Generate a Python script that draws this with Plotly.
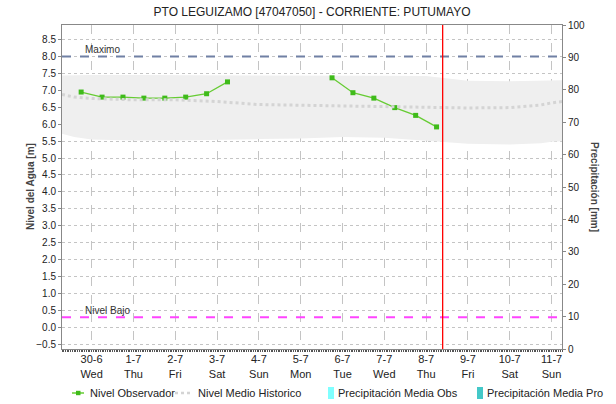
import plotly.graph_objects as go

# Observed water level (m), readings at 06:00 and 18:00; None breaks the line
obs_time = ["2021-06-29 18:00", "2021-06-30 06:00", "2021-06-30 18:00",
            "2021-07-01 06:00", "2021-07-01 18:00", "2021-07-02 06:00",
            "2021-07-02 18:00", "2021-07-03 06:00", "2021-07-04 00:00",
            "2021-07-05 18:00", "2021-07-06 06:00", "2021-07-06 18:00",
            "2021-07-07 06:00", "2021-07-07 18:00", "2021-07-08 06:00"]
obs_level = [6.95, 6.80, 6.80, 6.77, 6.77, 6.80, 6.90, 7.25, None,
             7.37, 6.93, 6.77, 6.49, 6.26, 5.92]

# Historical statistics (m)
hist_time = ["2021-06-29 07:00", "2021-06-29 14:00", "2021-06-30 00:00",
             "2021-07-01 00:00", "2021-07-02 00:00", "2021-07-03 00:00",
             "2021-07-04 00:00", "2021-07-05 00:00", "2021-07-06 00:00",
             "2021-07-07 00:00", "2021-07-08 00:00", "2021-07-08 12:00",
             "2021-07-09 00:00", "2021-07-10 00:00", "2021-07-10 18:00",
             "2021-07-11 00:00", "2021-07-11 06:00"]
hist_mean = [6.88, 6.80, 6.76, 6.72, 6.72, 6.67, 6.58, 6.56, 6.52,
             6.51, 6.49, 6.48, 6.48, 6.49, 6.57, 6.63, 6.67]
hist_max = [7.44, 7.45, 7.45, 7.45, 7.45, 7.45, 7.45, 7.44, 7.44,
            7.43, 7.42, 7.36, 7.28, 7.27, 7.29, 7.30, 7.30]
hist_min = [5.72, 5.62, 5.55, 5.52, 5.52, 5.55, 5.56, 5.58, 5.62,
            5.60, 5.52, 5.46, 5.42, 5.40, 5.44, 5.48, 5.50]

# Daily precipitation (mm) – nothing recorded in this period
precip_time = ["2021-06-30", "2021-07-01", "2021-07-02", "2021-07-03",
               "2021-07-04", "2021-07-05", "2021-07-06", "2021-07-07",
               "2021-07-08"]
precip_obs = [0, 0, 0, 0, 0, 0, 0, 0, 0]
precip_pro = [0, 0, 0, 0, 0, 0, 0, 0, 0]

# Reference levels (m)
nivel_maximo = 8.0
nivel_bajo = 0.3
now_time = "2021-07-08 09:30"

# Day axis labels
day_ticks = ["2021-06-30", "2021-07-01", "2021-07-02", "2021-07-03",
             "2021-07-04", "2021-07-05", "2021-07-06", "2021-07-07",
             "2021-07-08", "2021-07-09", "2021-07-10", "2021-07-11"]
day_labels = ["30-6", "1-7", "2-7", "3-7", "4-7", "5-7", "6-7", "7-7",
              "8-7", "9-7", "10-7", "11-7"]
weekday_labels = ["Wed", "Thu", "Fri", "Sat", "Sun", "Mon", "Tue", "Wed",
                  "Thu", "Fri", "Sat", "Sun"]

x_range = ["2021-06-29 07:00", "2021-07-11 06:00"]
FONT = "Liberation Sans, Arial, sans-serif"

C_OBS_LINE, C_OBS_MARK = "#66cc33", "#3fbb1a"
C_MEAN = "#d4d4d4"
C_PREC_OBS, C_PREC_PRO = "#80ffff", "#44c8c8"

# plot area in pixels, used to place the legend row below the axes
PL, PR, PT, PB = 62, 562, 25, 349


def px_x(v):
    return (v - PL) / (PR - PL)


def px_y(v):
    return (PB - v) / (PB - PT)


fig = go.Figure()

# Historical band
fig.add_trace(go.Scatter(x=hist_time, y=hist_min, mode="lines",
                         line=dict(width=0, color="#efefef"),
                         showlegend=False, hoverinfo="skip"))
fig.add_trace(go.Scatter(x=hist_time, y=hist_max, mode="lines",
                         line=dict(width=0, color="#efefef"),
                         fill="tonexty", fillcolor="#efefef",
                         showlegend=False, hoverinfo="skip"))

# Observed level
fig.add_trace(go.Scatter(x=obs_time, y=obs_level, mode="lines+markers",
                         name="Nivel Observador",
                         line=dict(color=C_OBS_LINE, width=1.3),
                         marker=dict(symbol="square", size=5, color=C_OBS_MARK),
                         connectgaps=False, showlegend=False))

# Historical mean
fig.add_trace(go.Scatter(x=hist_time, y=hist_mean, mode="lines",
                         name="Nivel Medio Historico",
                         line=dict(color=C_MEAN, width=3, dash="dot"),
                         showlegend=False))

# Precipitation bars on right axis
fig.add_trace(go.Bar(x=precip_time, y=precip_obs, yaxis="y2",
                     name="Precipitación Media Obs", showlegend=False,
                     marker=dict(color=C_PREC_OBS, line=dict(width=0))))
fig.add_trace(go.Bar(x=precip_time, y=precip_pro, yaxis="y2",
                     name="Precipitación Media Pro", showlegend=False,
                     marker=dict(color=C_PREC_PRO, line=dict(width=0))))

# Reference lines
fig.add_hline(y=nivel_maximo, line=dict(color="#7080a4", width=2, dash="dash"))
fig.add_hline(y=nivel_bajo, line=dict(color="#ff44ff", width=2, dash="dash"))
fig.add_vline(x=now_time, line=dict(color="#ff0000", width=1.3))

fig.add_annotation(x=0.042, y=nivel_maximo, xref="paper", yref="y",
                   text="Maximo", showarrow=False, xanchor="left",
                   yanchor="bottom", yshift=-1,
                   font=dict(family=FONT, size=10, color="#333"))
fig.add_annotation(x=0.042, y=nivel_bajo, xref="paper", yref="y",
                   text="Nivel Bajo", showarrow=False, xanchor="left",
                   yanchor="bottom", yshift=-1,
                   font=dict(family=FONT, size=10, color="#333"))

# Axis titles
fig.add_annotation(x=px_x(30), y=0.5, xref="paper", yref="paper",
                   text="<b>Nivel del Agua [m]</b>", textangle=-90,
                   showarrow=False, xanchor="center", yanchor="middle",
                   font=dict(family=FONT, size=10, color="#444"))
fig.add_annotation(x=px_x(595), y=0.5, xref="paper", yref="paper",
                   text="<b>Precipitación [mm]</b>", textangle=90,
                   showarrow=False, xanchor="center", yanchor="middle",
                   font=dict(family=FONT, size=10, color="#444"))

# Legend row
LEG_Y = 393
ly = px_y(LEG_Y)
legend_font = dict(family=FONT, size=11, color="#222")
# Nivel Observador
fig.add_shape(type="line", xref="paper", yref="paper",
              x0=px_x(72), x1=px_x(84), y0=ly, y1=ly,
              line=dict(color=C_OBS_LINE, width=1.5))
fig.add_shape(type="rect", xref="paper", yref="paper",
              x0=px_x(76), x1=px_x(80.5), y0=px_y(LEG_Y + 2.2),
              y1=px_y(LEG_Y - 2.2), line=dict(width=0), fillcolor=C_OBS_MARK)
fig.add_annotation(x=px_x(88), y=ly, xref="paper", yref="paper",
                   text="Nivel Observador", showarrow=False,
                   xanchor="left", yanchor="middle", font=legend_font)
# Nivel Medio Historico
fig.add_shape(type="line", xref="paper", yref="paper",
              x0=px_x(175), x1=px_x(191), y0=ly, y1=ly,
              line=dict(color=C_MEAN, width=2.5, dash="dot"))
fig.add_annotation(x=px_x(196), y=ly, xref="paper", yref="paper",
                   text="Nivel Medio Historico", showarrow=False,
                   xanchor="left", yanchor="middle", font=legend_font)
# Precipitación Media Obs
fig.add_shape(type="rect", xref="paper", yref="paper",
              x0=px_x(328), x1=px_x(334), y0=px_y(LEG_Y + 6),
              y1=px_y(LEG_Y - 6), line=dict(width=0), fillcolor=C_PREC_OBS)
fig.add_annotation(x=px_x(336), y=ly, xref="paper", yref="paper",
                   text="Precipitación Media Obs", showarrow=False,
                   xanchor="left", yanchor="middle", font=legend_font)
# Precipitación Media Pro
fig.add_shape(type="rect", xref="paper", yref="paper",
              x0=px_x(477), x1=px_x(483), y0=px_y(LEG_Y + 6),
              y1=px_y(LEG_Y - 6), line=dict(width=0), fillcolor=C_PREC_PRO)
fig.add_annotation(x=px_x(485), y=ly, xref="paper", yref="paper",
                   text="Precipitación Media Pro", showarrow=False,
                   xanchor="left", yanchor="middle", font=legend_font)

fig.update_layout(
    width=616, height=404,
    margin=dict(l=PL, r=616 - PR, t=PT, b=404 - PB, autoexpand=False),
    paper_bgcolor="white", plot_bgcolor="white",
    font=dict(family=FONT, size=10, color="#333"),
    title=dict(text="PTO LEGUIZAMO [47047050] - CORRIENTE: PUTUMAYO",
               x=0.5, xref="paper", y=0.97, yref="container",
               yanchor="middle",
               font=dict(family=FONT, size=12, color="#222")),
    showlegend=False,
    barmode="overlay",
    xaxis=dict(
        type="date", range=x_range,
        tickmode="array", tickvals=day_ticks,
        ticktext=[f"{d}<br>{w}" for d, w in zip(day_labels, weekday_labels)],
        showgrid=True, gridcolor="#c4c4c4", griddash="dash", gridwidth=1,
        showline=True, linecolor="#888", linewidth=1, mirror=True,
        ticks="", zeroline=False,
        tickfont=dict(family=FONT, size=11, color="#222"),
        minor=dict(dtick=3600000, tick0="2021-06-29", ticks="outside",
                   ticklen=2, tickcolor="#555", showgrid=False),
    ),
    yaxis=dict(
        range=[-0.64, 8.93], tickmode="linear", tick0=0, dtick=0.5,
        tickformat=".1f",
        showgrid=True, gridcolor="#c4c4c4", griddash="dot", gridwidth=1,
        showline=True, linecolor="#888", linewidth=1,
        ticks="outside", ticklen=3, tickcolor="#888",
        zeroline=False,
        tickfont=dict(family=FONT, size=10, color="#222"),
    ),
    yaxis2=dict(
        overlaying="y", side="right", range=[0, 100], dtick=10,
        showgrid=False, zeroline=False,
        showline=True, linecolor="#888", linewidth=1,
        ticks="outside", ticklen=3, tickcolor="#888",
        tickfont=dict(family=FONT, size=10, color="#222"),
    ),
)

fig.write_html("out.html")
